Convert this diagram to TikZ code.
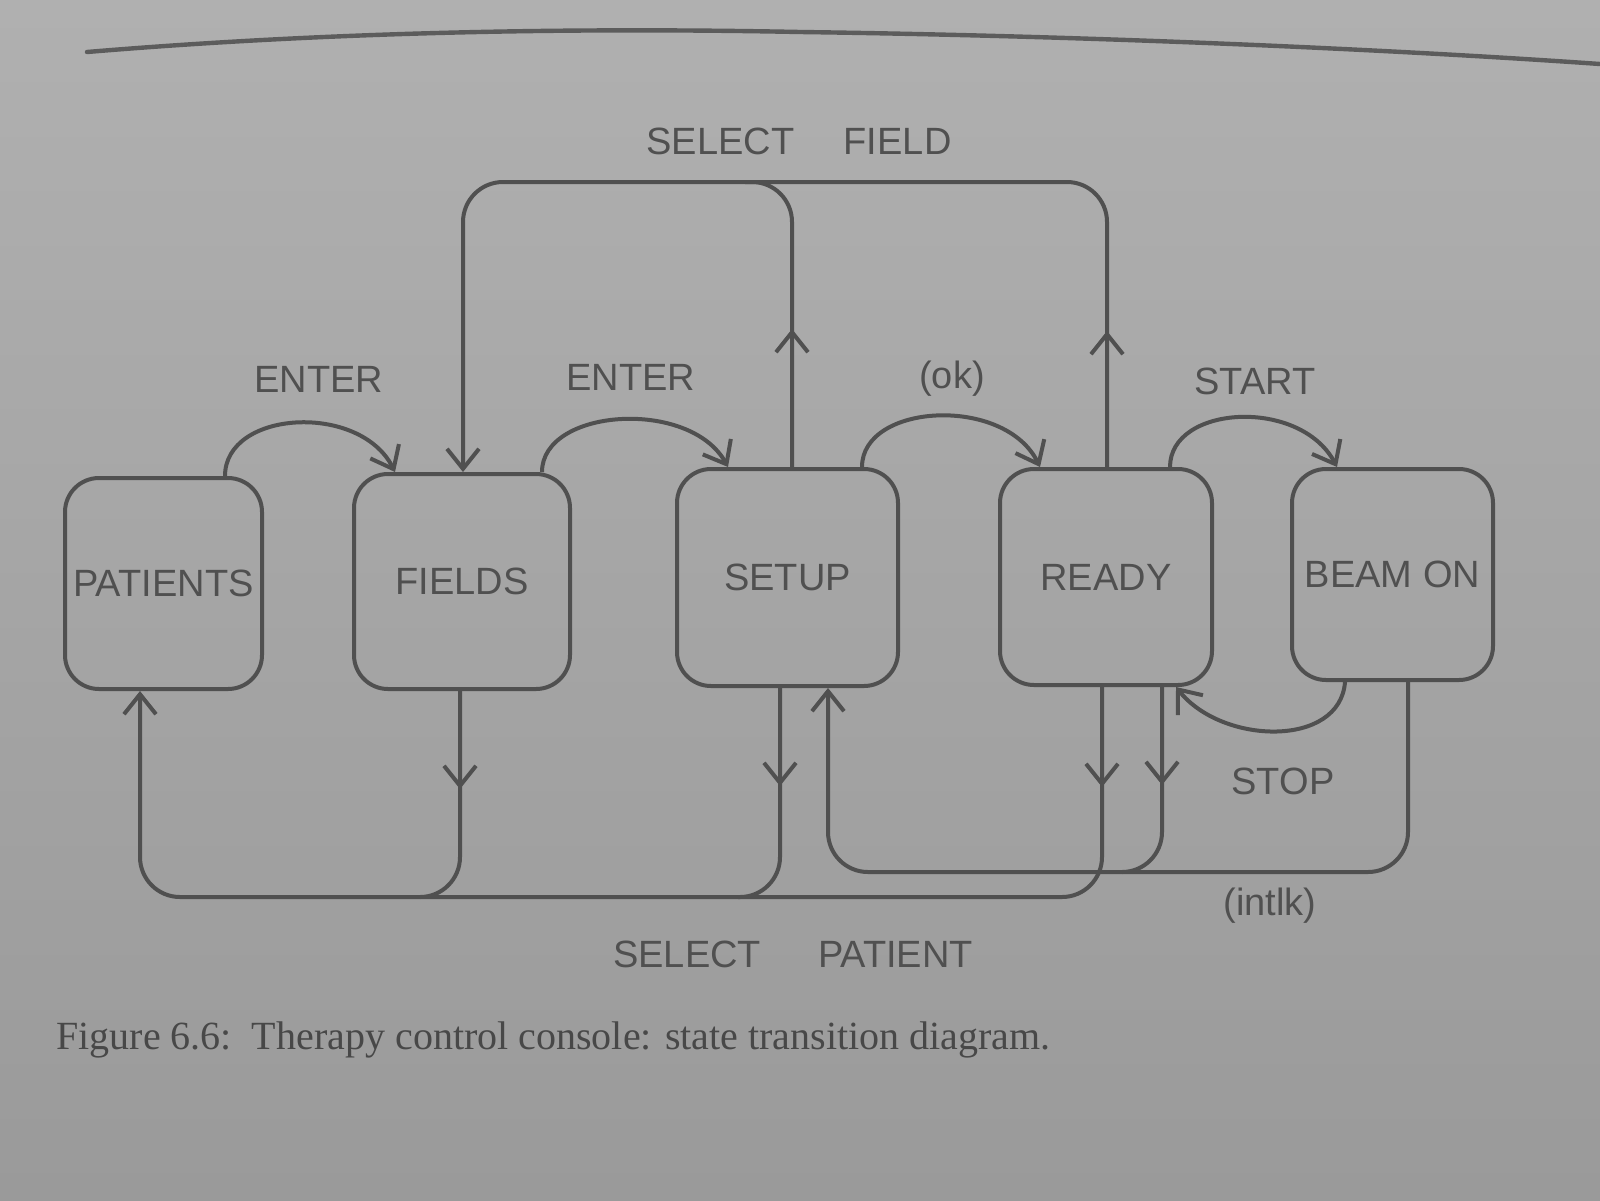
\documentclass[tikz,border=0pt]{standalone}
\usepackage{fontspec}
\setmainfont{Liberation Serif}
\setsansfont{Liberation Sans}
\usetikzlibrary{arrows.meta,decorations.markings,calc}

\definecolor{papertop}{HTML}{B0B0B0}
\definecolor{paperbot}{HTML}{9A9A9A}
\definecolor{ink}{HTML}{505050}
\definecolor{rule}{HTML}{5C5C5C}

\tikzset{
  state/.style={draw=ink, line width=2pt, rounded corners=17pt,
    font=\sffamily\fontsize{19}{22}\selectfont, text=ink, inner sep=0pt},
  lbl/.style={font=\sffamily\fontsize{19}{22}\selectfont, text=ink, inner sep=0pt},
  wire/.style={draw=ink, line width=2pt, rounded corners=20pt},
  barb/.style={-{Straight Barb[length=10pt,width=16pt]}},
  midarrow/.style={postaction={decorate,decoration={markings,
    mark=at position #1 with {\arrow[ink,line width=2pt]{Straight Barb[length=10pt,width=16pt]}}}}}
}

\begin{document}
\begin{tikzpicture}[x=0.5pt,y=-0.5pt]
% page
\useasboundingbox (0,0) rectangle (1600,1200);
\shade[top color=papertop, bottom color=paperbot] (0,0) rectangle (1600,1200);

% running rule at the head of the page
\draw[rule, line width=2.2pt, line cap=round]
  (87,52) .. controls (350,30) and (600,28) .. (800,32)
          .. controls (1100,36) and (1400,50) .. (1600,64);

% states
\node[state, minimum width=98.5pt, minimum height=105.5pt] (PATIENTS) at (163.5,583.5) {PATIENTS};
\node[state, minimum width=108pt,  minimum height=107.5pt] (FIELDS)   at (462,581.5)   {FIELDS};
\node[state, minimum width=110.5pt,minimum height=108.5pt] (SETUP)    at (787.5,577.5) {SETUP};
\node[state, minimum width=106pt,  minimum height=108pt]   (READY)    at (1106,577)    {READY};
\node[state, minimum width=100.5pt,minimum height=105.5pt] (BEAMON)   at (1392.5,574.5){BEAM ON};

% forward transitions
\draw[wire, barb] (225,0 |- PATIENTS.north) .. controls (225,410) and (360,402) .. (395,0 |- FIELDS.north);
\draw[wire, barb] (542,0 |- FIELDS.north) .. controls (542,408) and (690,398) .. (728,0 |- SETUP.north);
\draw[wire, barb] (862,0 |- SETUP.north) .. controls (862,403) and (1005,395) .. (1040,0 |- READY.north);
\draw[wire, barb] (1170,0 |- READY.north) .. controls (1170,405) and (1300,397) .. (1337,0 |- BEAMON.north);

% select field
\draw[wire, barb, midarrow=68pt] (1107,0 |- READY.north) -- (1107,182) -- (463,182) -- (463,0 |- FIELDS.north);
\draw[wire, midarrow=69pt] (792,0 |- SETUP.north) -- (792,182) -- (745,182);

% select patient
\draw[wire, barb, midarrow=50pt] (1102,0 |- READY.south) -- (1102,897) -- (140,897) -- (140,0 |- PATIENTS.south);
\draw[wire, midarrow=49pt] (460,0 |- FIELDS.south) -- (460,897) -- (420,897);
\draw[wire, midarrow=49pt] (780,0 |- SETUP.south) -- (780,897) -- (738,897);

% interlock
\draw[wire, barb] (1408,0 |- BEAMON.south) -- (1408,872) -- (828,872) -- (828,0 |- SETUP.south);
\draw[wire, midarrow=49pt] (1162,0 |- READY.south) -- (1162,872) -- (1122,872);

% stop
\draw[wire, barb] (1345,0 |- BEAMON.south) .. controls (1340,748) and (1222,745) .. (1176,0 |- READY.south);

% transition labels
\node[lbl] (lEnterA) at (319,379) {ENTER};
\node[lbl] (lEnterB) at (631,377) {ENTER};
\node[lbl] (lOk)     at (952,379) {(ok)};
\node[lbl] (lStart)  at (1255,381) {START};
\node[lbl] (lField)  at (799,141) {SELECT\hspace*{1.3em}FIELD};
\node[lbl] (lStop)   at (1283,781) {STOP};
\node[lbl] (lIntlk)  at (1270,906) {(intlk)};
\node[lbl] (lPatient) at (793,954) {SELECT\hspace*{1.5em}PATIENT};

% caption
\node[anchor=west, inner sep=0pt, text=ink!90!black, font=\fontsize{20}{24}\selectfont]
  (caption) at (56,1040) {Figure 6.6:\ \ Therapy control console: state transition diagram.};
\end{tikzpicture}
\end{document}
